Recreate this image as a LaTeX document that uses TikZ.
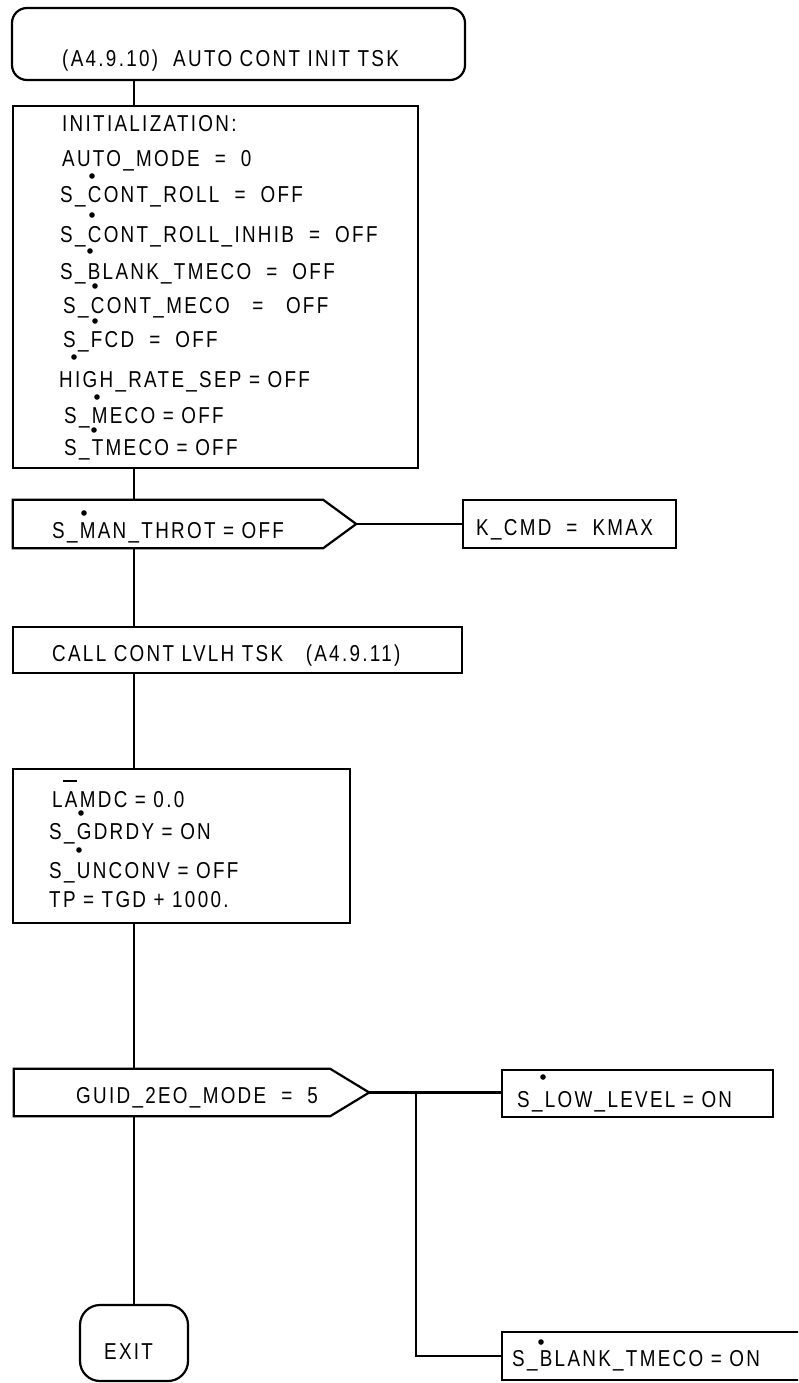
\documentclass[tikz,border=0pt]{standalone}
\usepackage{fontspec}
\setmainfont{Liberation Sans}[FakeStretch=0.82,LetterSpace=10]
\usetikzlibrary{calc}

\begin{document}
\begin{tikzpicture}[x=1pt,y=-1pt,
    every node/.style={font=\fontsize{23}{27}\selectfont},
    procbox/.style={draw,line width=2.2pt,inner sep=0pt},
    termbox/.style={procbox,rounded corners=#1},
    txt/.style={anchor=base west,inner sep=0pt},
    link/.style={line width=2.2pt}]
      \clip (0,0) rectangle (798,1383);
      \coordinate (spine) at (134,0);
      % Terminals
      \node[termbox=15pt,minimum width=453,minimum height=72] (start) at (238.5,44) {};
      \node[termbox=20pt,minimum width=108,minimum height=76] (exit) at (134,1343) {};
      % Process boxes
      \node[procbox,minimum width=405,minimum height=362] (init) at (215.5,287) {};
      \node[procbox,minimum width=213,minimum height=48] (kcmd) at (569.5,524) {};
      \node[procbox,minimum width=449,minimum height=46] (call) at (237.5,650) {};
      \node[procbox,minimum width=337,minimum height=154] (lamdc) at (181.5,846) {};
      \node[procbox,minimum width=271,minimum height=47] (slow) at (637.5,1093.5) {};
      \node[procbox,minimum width=328,minimum height=48] (sblank) at (666,1356) {};
      % Decisions (body + pointed end)
      \node[inner sep=0pt,minimum width=310,minimum height=48] (d1) at (168,524) {};
      \draw[link] (d1.north west) -- (d1.north east) -- ($(d1.east)+(33,0)$) coordinate (d1tip)
        -- (d1.south east) -- (d1.south west) -- cycle;
      \node[inner sep=0pt,minimum width=316,minimum height=47] (d2) at (172,1092.5) {};
      \draw[link] (d2.north west) -- (d2.north east) -- ($(d2.east)+(39,0)$) coordinate (d2tip)
        -- (d2.south east) -- (d2.south west) -- cycle;
      % Texts
      \node[txt] (t-start) at (62,67) {(A4.9.10)\ \ AUTO CONT INIT TSK};
      \node[txt] (t-init) at (62,132) {INITIALIZATION:};
      \node[txt] (t-auto) at (62,167) {AUTO\_MODE\ \ =\ \ 0};
      \node[txt] (t-roll) at (60,203) {S\_CONT\_ROLL\ \ =\ \ OFF};
      \node[txt] (t-inhib) at (60,242) {S\_CONT\_ROLL\_INHIB\ \ =\ \ OFF};
      \node[txt] (t-btmeco) at (60,279) {S\_BLANK\_TMECO\ \ =\ \ OFF};
      \node[txt] (t-cmeco) at (63,313) {S\_CONT\_MECO\ \ \ =\ \ \ OFF};
      \node[txt] (t-fcd) at (63,347) {S\_FCD\ \ =\ \ OFF};
      \node[txt] (t-hrs) at (59,387) {HIGH\_RATE\_SEP = OFF};
      \node[txt] (t-meco) at (64,423) {S\_MECO = OFF};
      \node[txt] (t-tmeco) at (64,455) {S\_TMECO = OFF};
      \node[txt] (t-d1) at (52,538) {S\_MAN\_THROT = OFF};
      \node[txt] (t-kcmd) at (476,535) {K\_CMD\ \ =\ \ KMAX};
      \node[txt] (t-call) at (52,661) {CALL CONT LVLH TSK\ \ \ (A4.9.11)};
      \node[txt] (t-lamdc) at (52,807) {LAMDC = 0.0};
      \node[txt] (t-gdrdy) at (49,839) {S\_GDRDY = ON};
      \node[txt] (t-unconv) at (49,878) {S\_UNCONV = OFF};
      \node[txt] (t-tp) at (49,907) {TP = TGD + 1000.};
      \node[txt] (t-d2) at (76,1103) {GUID\_2EO\_MODE\ \ =\ \ 5};
      \node[txt] (t-slow) at (517,1107) {S\_LOW\_LEVEL = ON};
      \node[txt] (t-sblank) at (512,1366) {S\_BLANK\_TMECO = ON};
      \node[txt] (t-exit) at (104,1359) {EXIT};
      % Flag dots and bar
      \foreach \dx/\dy in {92/176,92/215,90/251,95/286,95/321,74/357,97/397,94/430,
                           84/513,81/813,79/850,543/1077,541/1342}
        \fill (\dx,\dy) circle (2.8);
      \draw[link] (63,781) -- (77,781);
      % Main line
      \draw[link] (start.south -| spine) -- (init.north -| spine);
      \draw[link] (init.south -| spine) -- (d1.north -| spine);
      \draw[link] (d1.south -| spine) -- (call.north -| spine);
      \draw[link] (call.south -| spine) -- (lamdc.north -| spine);
      \draw[link] (lamdc.south -| spine) -- (d2.north -| spine);
      \draw[link] (d2.south -| spine) -- (exit.north);
      % Branches
      \draw[link] (d1tip) -- (kcmd.west);
      \draw[link] (d2tip) -- (d2tip -| slow.west);
      \coordinate (branch) at ($(d2tip)+(47,0)$);
      \draw[link] (branch) |- (sblank.west);
    \end{tikzpicture}
\end{document}
